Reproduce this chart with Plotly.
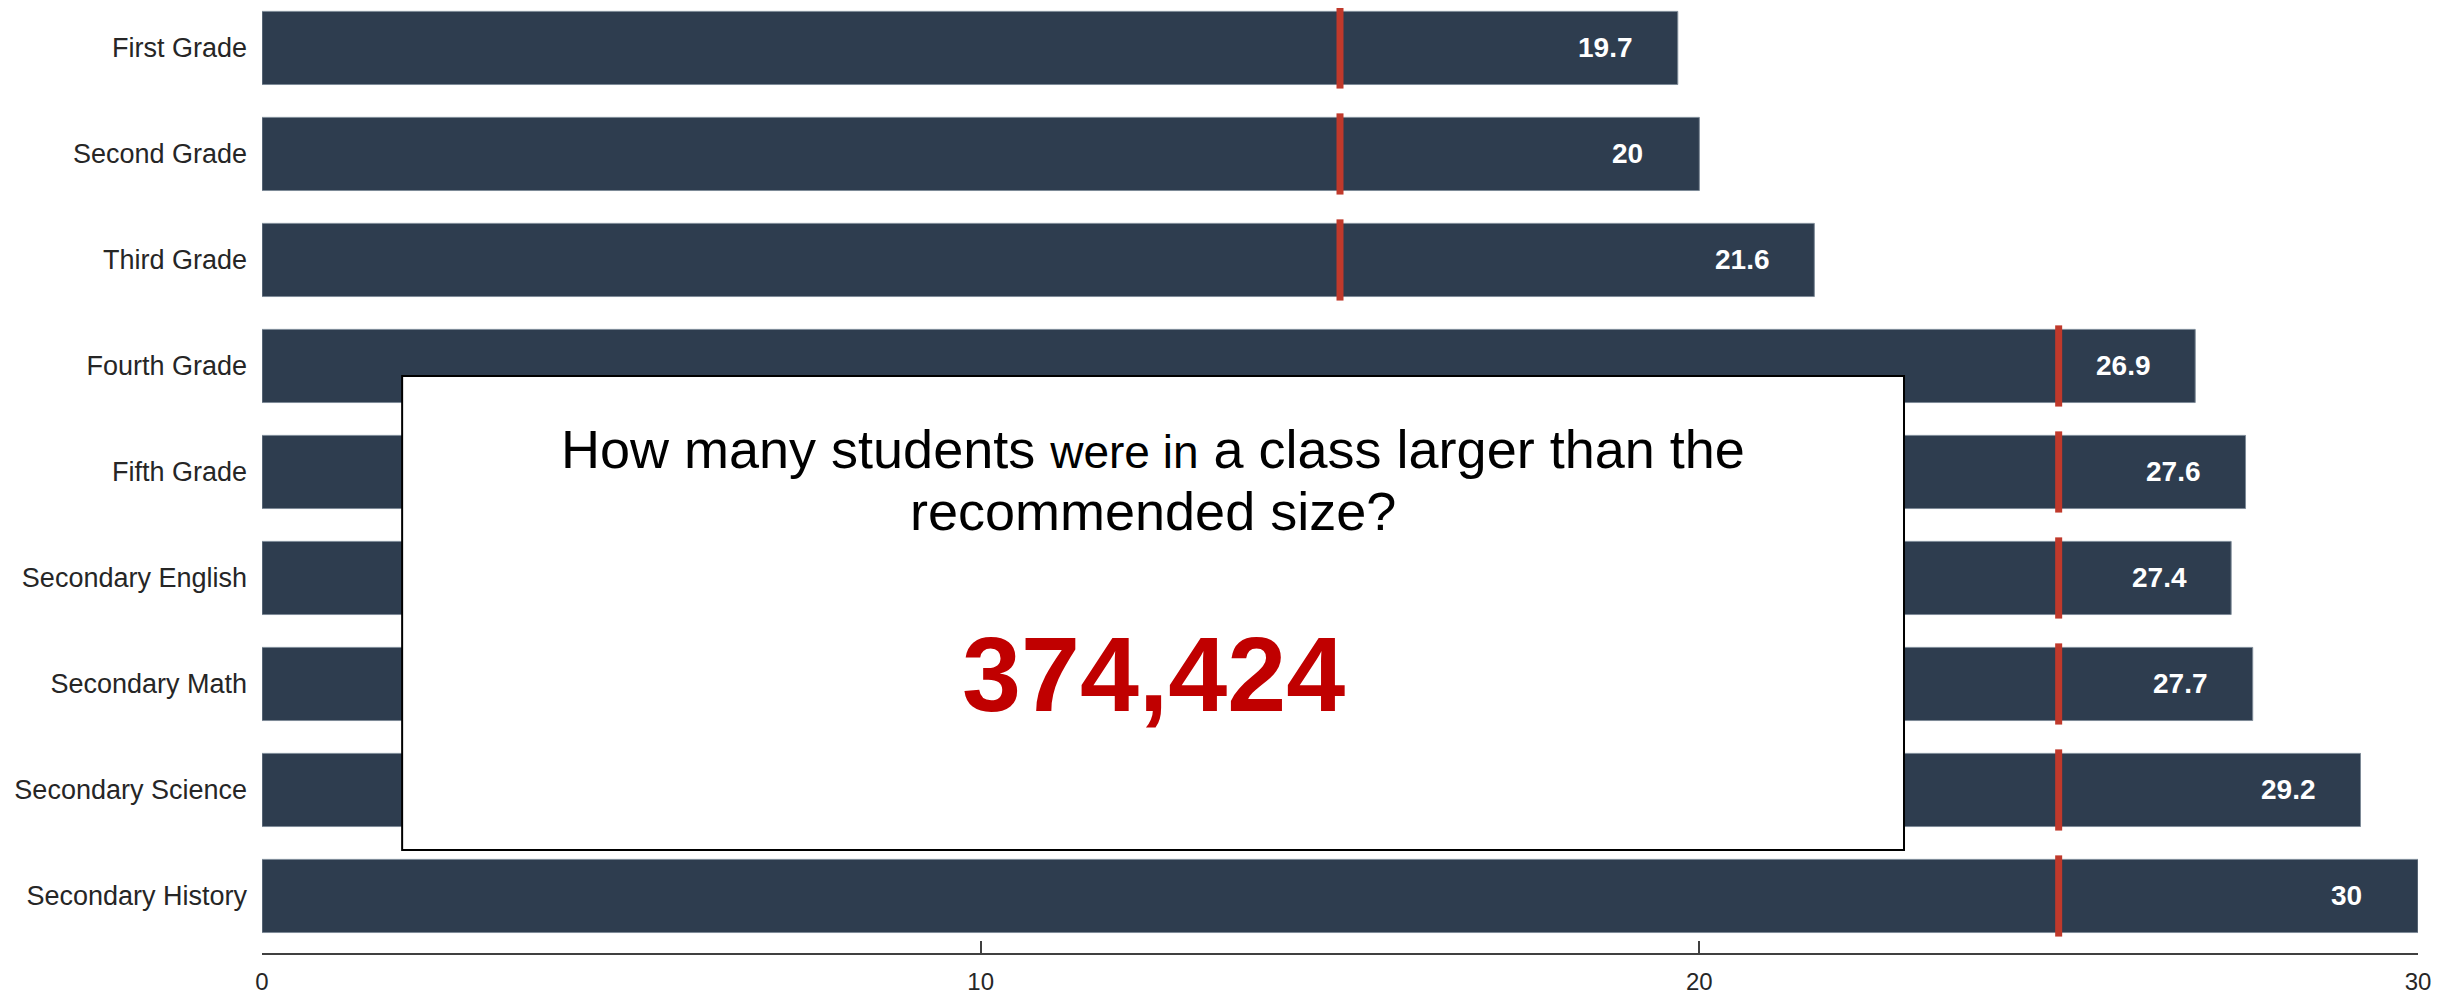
import plotly.graph_objects as go

# class size data
grades = ["First Grade", "Second Grade", "Third Grade", "Fourth Grade", "Fifth Grade",
          "Secondary English", "Secondary Math", "Secondary Science", "Secondary History"]
avg_size = [19.7, 20, 21.6, 26.9, 27.6, 27.4, 27.7, 29.2, 30]
recommended = [15, 15, 15, 25, 25, 25, 25, 25, 25]
x_ticks = [0, 10, 20, 30]

question = "How many students <span style='font-size:46px'>were in</span> a class larger than the"
question2 = "recommended size?"
answer = "374,424"

fig = go.Figure()

fig.add_trace(go.Bar(
    y=grades, x=avg_size, orientation="h",
    width=0.69,
    marker=dict(color="#2E3D4F", line=dict(color="#7D8A97", width=1)),
    hoverinfo="x+y",
))

# recommended size markers (line-ns draws 1.4 * size long)
fig.add_trace(go.Scatter(
    y=grades, x=recommended, mode="markers",
    marker=dict(symbol="line-ns", size=58, line=dict(color="#C0392B", width=7)),
    hoverinfo="skip",
))

# value labels inside bars
for g, v in zip(grades, avg_size):
    fig.add_annotation(x=v - 1, y=g, text="<b>%g</b>" % v, showarrow=False,
                       xanchor="center", yanchor="middle",
                       font=dict(family="Liberation Sans, Arial", size=28, color="white"))

# white callout box
fig.add_shape(type="rect", xref="paper", yref="paper",
              x0=0.065, x1=0.7616, y0=0.109, y1=0.6106,
              fillcolor="white", line=dict(color="black", width=2), layer="above")

fig.add_annotation(xref="paper", yref="paper", x=0.4133, y=0.5333, text=question,
                   showarrow=False, xanchor="center", yanchor="middle",
                   font=dict(family="Liberation Sans, Arial", size=54, color="black"))
fig.add_annotation(xref="paper", yref="paper", x=0.4133, y=0.4677, text=question2,
                   showarrow=False, xanchor="center", yanchor="middle",
                   font=dict(family="Liberation Sans, Arial", size=54, color="black"))
fig.add_annotation(xref="paper", yref="paper", x=0.4133, y=0.2952, text="<b>" + answer + "</b>",
                   showarrow=False, xanchor="center", yanchor="middle",
                   font=dict(family="Liberation Sans, Arial", size=106, color="#C00000"))

fig.update_layout(
    width=2437, height=994,
    margin=dict(l=254, r=27, t=0, b=49),
    paper_bgcolor="white", plot_bgcolor="white",
    showlegend=False,
    font=dict(family="Liberation Sans, Arial", color="#262626"),
    bargap=0.31,
)
fig.update_xaxes(range=[0, 30], tickvals=x_ticks, showgrid=False, zeroline=False,
                 showline=True, linecolor="#404040", linewidth=2, automargin=False,
                 ticks="inside", ticklen=12, tickwidth=2, tickcolor="#404040",
                 ticklabelstandoff=6,
                 tickfont=dict(size=24, color="#262626"))
fig.update_yaxes(type="category", range=[8.538, -0.377], showgrid=False, zeroline=False,
                 showline=False, ticks="", ticklabelstandoff=14, automargin=False,
                 tickfont=dict(size=27, color="#262626"))

fig.write_html("out.html")
